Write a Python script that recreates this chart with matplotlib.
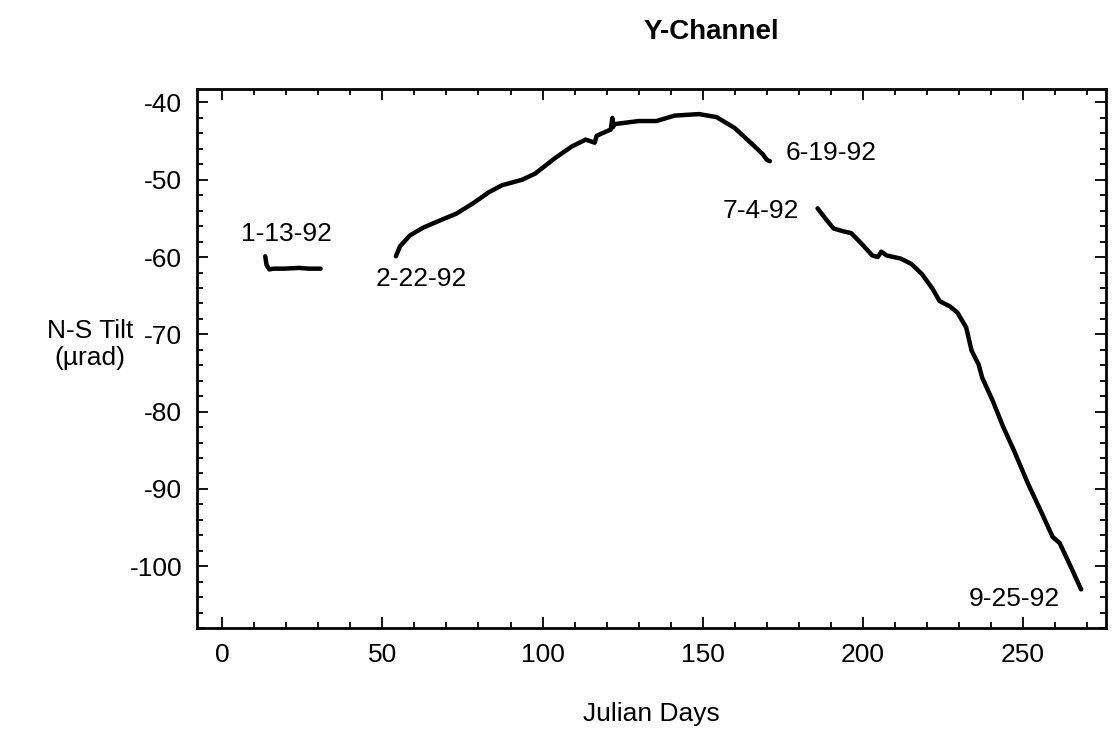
import matplotlib
matplotlib.use("Agg")
import matplotlib.pyplot as plt
from matplotlib.ticker import MultipleLocator

plt.rcParams['font.family'] = ['Liberation Sans', 'DejaVu Sans']
plt.rcParams['axes.unicode_minus'] = False

# Segment 1: 1-13-92
x1 = [13.4, 13.8, 14.7, 16.0, 19.4, 24.0, 27.0, 30.7]
y1 = [-59.9, -61.0, -61.6, -61.5, -61.5, -61.4, -61.5, -61.5]

# Segment 2: 2-22-92 to 6-19-92
x2 = [54.2, 55.5, 58.6, 62.7, 68.9, 73.0, 78.1, 83.3, 87.4, 93.6, 97.7,
      103.9, 109.1, 113.5, 116.3, 116.9, 121.3, 121.8, 122.0, 122.4,
      130.1, 135.6, 141.2, 148.9, 154.4, 160.0, 165.5, 168.8, 170.0, 171.0]
y2 = [-59.9, -58.6, -57.2, -56.2, -55.1, -54.4, -53.1, -51.6, -50.7, -50.0, -49.2,
      -47.2, -45.7, -44.8, -45.2, -44.3, -43.5, -42.0, -43.2, -42.8,
      -42.4, -42.4, -41.7, -41.5, -41.9, -43.3, -45.4, -46.7, -47.4, -47.6]

# Segment 3: 7-4-92 to 9-25-92
x3 = [185.9, 188.7, 190.9, 194.2, 196.4, 199.7, 203.0, 204.7, 205.8, 207.5,
      211.9, 215.2, 218.5, 221.8, 224.0, 227.3, 229.6, 232.3, 234.0, 236.2,
      237.3, 240.6, 243.9, 247.2, 251.6, 256.0, 259.3, 261.5, 264.9, 268.2]
y3 = [-53.7, -55.2, -56.3, -56.7, -56.9, -58.3, -59.8, -60.0, -59.3, -59.8,
      -60.2, -60.9, -62.2, -64.1, -65.7, -66.4, -67.2, -69.1, -72.1, -73.9,
      -75.6, -78.6, -82.0, -85.0, -89.3, -93.2, -96.2, -97.0, -100.0, -103.0]

date_labels = ['1-13-92', '2-22-92', '6-19-92', '7-4-92', '9-25-92']
label_x = [20.1, 62.2, 176.0, 168.2, 247.2]
label_y = [-57.0, -62.9, -46.5, -54.1, -104.2]
label_ha = ['center', 'center', 'left', 'center', 'center']

fig = plt.figure(figsize=(11.15, 7.32), dpi=100)
ax = fig.add_axes([0.177, 0.142, 0.815, 0.737])

for xs, ys in [(x1, y1), (x2, y2), (x3, y3)]:
    ax.plot(xs, ys, color='black', lw=3.2, solid_capstyle='round', solid_joinstyle='round')

for t, x, y, ha in zip(date_labels, label_x, label_y, label_ha):
    ax.text(x, y, t, ha=ha, va='center', fontsize=19)

ax.set_xlim(-7.8, 276)
ax.set_ylim(-108, -38.2)
ax.xaxis.set_major_locator(MultipleLocator(50))
ax.xaxis.set_minor_locator(MultipleLocator(10))
ax.yaxis.set_major_locator(MultipleLocator(10))
ax.yaxis.set_minor_locator(MultipleLocator(2))
ax.tick_params(which='both', direction='in', top=True, right=True, labelsize=19, width=1.3)
ax.tick_params(which='major', length=8)
ax.tick_params(axis='x', which='major', pad=11)
ax.tick_params(axis='y', which='major', pad=11)
ax.tick_params(which='minor', length=4)
for s in ax.spines.values():
    s.set_linewidth(2)

ax.set_xlabel('Julian Days', fontsize=19, labelpad=25)
ax.text(-0.118, 0.525, 'N-S Tilt\n(µrad)', transform=ax.transAxes, ha='center', va='center',
        fontsize=19, linespacing=1.15)
fig.text(0.638, 0.956, 'Y-Channel', ha='center', va='center', fontsize=20, fontweight='bold')

fig.savefig('out.png', dpi=100)
